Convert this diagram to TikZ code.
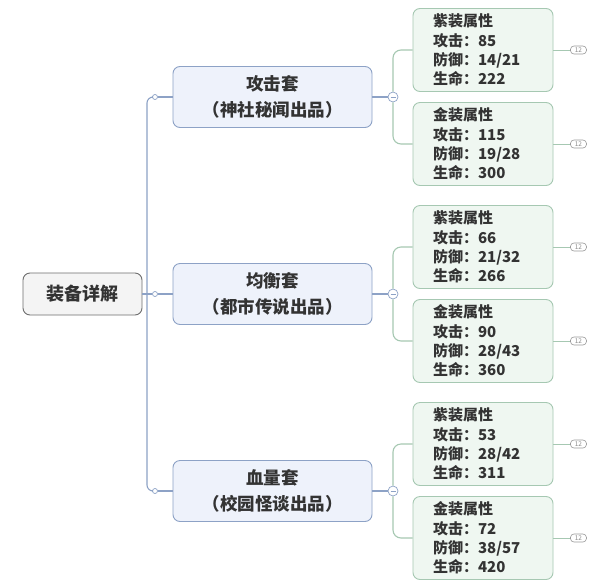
\documentclass[tikz,border=0pt]{standalone}
\usepackage{fontspec}
\setmainfont{Noto Sans CJK SC}
\usetikzlibrary{calc}

\definecolor{rootline}{HTML}{6E6E6E}
\definecolor{rootfill}{HTML}{F4F4F4}
\definecolor{branchline}{HTML}{8DA2C6}
\definecolor{branchfill}{HTML}{EEF2FB}
\definecolor{leafline}{HTML}{A6C8B2}
\definecolor{leaffill}{HTML}{EFF7F1}
\definecolor{txt}{HTML}{333333}

\begin{document}
\begin{tikzpicture}[x=1pt, y=-1pt,
        X/.style={draw, rounded corners=7pt, line width=0.9pt, text=txt, inner sep=0pt},
        R/.style={X, draw=rootline, fill=rootfill, minimum width=119pt, minimum height=42pt,
            font=\bfseries\fontsize{18}{22}\selectfont},
        B/.style={X, draw=branchline, fill=branchfill, minimum width=199pt, minimum height=61pt,
            align=center, font=\bfseries\fontsize{17.5}{26}\selectfont},
        L/.style={X, draw=leafline, fill=leaffill, minimum width=140pt, minimum height=83pt,
            text width=100pt, align=left, font=\bfseries\fontsize{15}{19.3}\selectfont},
        J/.style={circle, draw=branchline, fill=white, line width=0.7pt, inner sep=0pt, minimum size=5pt},
        M/.style={circle, draw=branchline, fill=white, line width=0.7pt, inner sep=0pt, minimum size=10pt},
        G/.style={draw=gray!80, rounded corners=3.5pt, line width=0.6pt, fill=white, inner sep=0pt,
            minimum width=16pt, minimum height=8pt, text=gray!90, font=\fontsize{6.5}{7}\selectfont},
        trunk/.style={draw=branchline, line width=1.1pt},
        twig/.style={draw=leafline, line width=1.1pt}
    ]

    \def\xb{272.5}
    \def\xl{483}
    \def\dl{47}

    \useasboundingbox[fill=white] (0,0) rectangle (600,587);

    % root and branches
    \node[R] (root) at (82.5,294) {装备详解};

    \node[B] (b1) at (\xb,97) {攻击套\\（神社秘闻出品）};
    \node[B] (b2) at (\xb,294) {均衡套\\（都市传说出品）};
    \node[B] (b3) at (\xb,491) {血量套\\（校园怪谈出品）};

    % leaves
    \node[L] (l11) at (\xl,97-\dl) {紫装属性\\攻击：85\\防御：14/21\\生命：222};
    \node[L] (l12) at (\xl,97+\dl) {金装属性\\攻击：115\\防御：19/28\\生命：300};
    \node[L] (l21) at (\xl,294-\dl) {紫装属性\\攻击：66\\防御：21/32\\生命：266};
    \node[L] (l22) at (\xl,294+\dl) {金装属性\\攻击：90\\防御：28/43\\生命：360};
    \node[L] (l31) at (\xl,491-\dl) {紫装属性\\攻击：53\\防御：28/42\\生命：311};
    \node[L] (l32) at (\xl,491+\dl) {金装属性\\攻击：72\\防御：38/57\\生命：420};

    % junctions
    \foreach \i in {1,2,3}{
        \node[J] (j\i) at (155,0 |- b\i) {};
        \node[M] (m\i) at (393,0 |- b\i) {};
        \draw[branchline, line width=0.8pt] ([xshift=-2.5pt]m\i.center) -- ([xshift=2.5pt]m\i.center);
    }
    \coordinate (tk) at (147,294);

    \draw[trunk] (root.east) -- (j2.west);
    \draw[trunk, rounded corners=6pt] (j1.west) -| (tk) |- (j3.west);

    \foreach \i in {1,2,3}{
        \draw[trunk] (j\i.east) -- (b\i.west);
        \draw[trunk] (b\i.east) -- (m\i.west);
        \draw[twig, rounded corners=8pt] (m\i.north) |- (l\i1.west);
        \draw[twig, rounded corners=8pt] (m\i.south) |- (l\i2.west);
        \foreach \k in {1,2}{
            \node[G] (g\i\k) at ($(l\i\k.east)+(25pt,0)$) {12};
            \draw[twig, line width=0.8pt] (l\i\k.east) -- (g\i\k.west);
        }
    }
\end{tikzpicture}
\end{document}
